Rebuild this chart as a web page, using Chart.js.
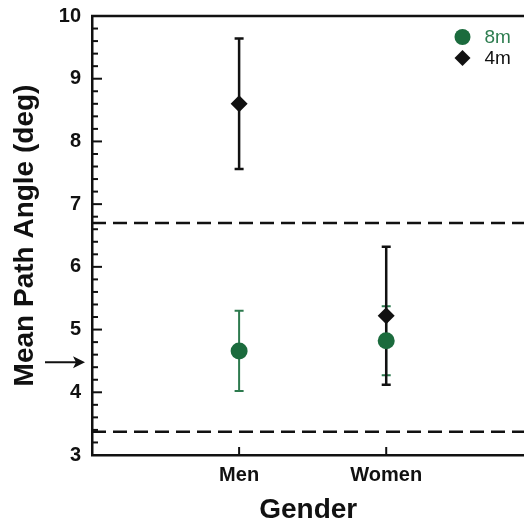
<!DOCTYPE html>
<html>
<head>
<meta charset="utf-8">
<script src="https://cdn.jsdelivr.net/npm/chart.js@4"></script>
<style>
  html, body { margin: 0; padding: 0; background: #fff; overflow: hidden; }
  #wrap { width: 524px; height: 523px; overflow: hidden; }
</style>
</head>
<body>
<div id="wrap"><canvas id="chart" width="533" height="523"></canvas></div>
<script>
// Data
const categories = ['Men', 'Women'];
const mean8m = [4.66, 4.82];
const err8m  = [0.64, 0.55];
const mean4m = [8.60, 5.22];
const err4m  = [1.04, 1.10];
const refLines = [6.70, 3.37];   // dashed band
const arrowValue = 4.48;         // arrow on the left of the y axis
const yRange = [3, 10];
const yMinorStep = 0.2;

const FONT = '"Liberation Sans", Arial, Helvetica, sans-serif';
const GREEN = '#1b6b3d';
const INK = '#111';

const isMajor = v => Math.abs(v - Math.round(v)) < 1e-6;
const toPoints = arr => arr.map((v, i) => ({x: i + 1, y: v}));

// error bars drawn under the markers
const errorBars = {
  id: 'errorBars',
  beforeDatasetsDraw(chart){
    const {ctx, scales: {y}} = chart;
    chart.data.datasets.forEach((ds, di) => {
      if(!ds.errors) return;
      const meta = chart.getDatasetMeta(di);
      ctx.save();
      ctx.strokeStyle = ds.errorColor;
      ctx.lineWidth = ds.errorWidth;
      meta.data.forEach((pt, i) => {
        const v = ds.data[i].y, e = ds.errors[i];
        const top = y.getPixelForValue(v + e);
        const bot = y.getPixelForValue(v - e);
        ctx.beginPath();
        ctx.moveTo(pt.x, top); ctx.lineTo(pt.x, bot);
        ctx.moveTo(pt.x - 4.5, top); ctx.lineTo(pt.x + 4.5, top);
        ctx.moveTo(pt.x - 4.5, bot); ctx.lineTo(pt.x + 4.5, bot);
        ctx.stroke();
      });
      ctx.restore();
    });
  }
};

// frame, inward ticks, arrow, legend
const decorations = {
  id: 'decorations',
  afterDraw(chart){
    const {ctx, chartArea: a, scales: {x, y}} = chart;
    ctx.save();
    ctx.strokeStyle = INK;
    ctx.fillStyle = INK;

    // top frame line
    ctx.lineWidth = 2.5;
    ctx.beginPath();
    ctx.moveTo(a.left - 1, a.top);
    ctx.lineTo(a.right, a.top);
    ctx.stroke();

    // y ticks pointing into the plot
    ctx.lineWidth = 2;
    y.ticks.forEach(t => {
      const py = y.getPixelForValue(t.value);
      const len = isMajor(t.value) ? 10 : 6;
      ctx.beginPath();
      ctx.moveTo(a.left, py);
      ctx.lineTo(a.left + len, py);
      ctx.stroke();
    });

    // x ticks at the categories
    x.ticks.forEach(t => {
      const px = x.getPixelForValue(t.value);
      ctx.beginPath();
      ctx.moveTo(px, a.bottom);
      ctx.lineTo(px, a.bottom - 8);
      ctx.stroke();
    });

    // arrow
    const ay = y.getPixelForValue(arrowValue);
    ctx.lineWidth = 2;
    ctx.beginPath();
    ctx.moveTo(45, ay);
    ctx.lineTo(78, ay);
    ctx.stroke();
    ctx.beginPath();
    ctx.moveTo(85, ay);
    ctx.lineTo(73, ay - 6);
    ctx.lineTo(76, ay);
    ctx.lineTo(73, ay + 6);
    ctx.closePath();
    ctx.fill();

    // legend (top right, inside the plot)
    const items = chart.data.datasets.filter(d => d.legendColor);
    let ly = a.top + 21;
    const lx = a.right - 62;
    ctx.font = '19px ' + FONT;
    ctx.textBaseline = 'middle';
    ctx.textAlign = 'left';
    items.forEach(d => {
      ctx.fillStyle = d.backgroundColor;
      ctx.beginPath();
      if(d.pointStyle === 'circle'){
        ctx.arc(lx, ly, 8, 0, Math.PI * 2);
      } else {
        ctx.moveTo(lx, ly - 8); ctx.lineTo(lx + 8, ly);
        ctx.lineTo(lx, ly + 8); ctx.lineTo(lx - 8, ly);
        ctx.closePath();
      }
      ctx.fill();
      ctx.fillStyle = d.legendColor;
      ctx.fillText(d.label, lx + 22, ly + 1);
      ly += 21;
    });
    ctx.restore();
  }
};

const xMax = 2.94;
const refDatasets = refLines.map(v => ({
  type: 'line',
  label: 'ref',
  data: [{x: 0, y: v}, {x: 3, y: v}],
  borderColor: INK,
  borderWidth: 2.5,
  borderDash: [14, 7],
  pointRadius: 0,
  fill: false,
}));

new Chart(document.getElementById('chart'), {
  type: 'scatter',
  data: {
    datasets: [
      ...refDatasets,
      {
        label: '8m',
        data: toPoints(mean8m),
        errors: err8m,
        errorColor: '#2d7a4e',
        errorWidth: 2,
        legendColor: '#2e7d50',
        pointStyle: 'circle',
        pointRadius: 8.5,
        backgroundColor: GREEN,
        borderColor: GREEN,
        borderWidth: 0,
      },
      {
        label: '4m',
        data: toPoints(mean4m),
        errors: err4m,
        errorColor: INK,
        errorWidth: 2.5,
        legendColor: INK,
        pointStyle: 'rectRot',
        pointRadius: 8.5,
        backgroundColor: INK,
        borderColor: INK,
        borderWidth: 0,
      },
    ]
  },
  options: {
    responsive: false,
    animation: false,
    devicePixelRatio: 1,
    layout: {padding: {top: 16, left: 0, right: 0, bottom: 0}},
    plugins: {legend: {display: false}, tooltip: {enabled: false}},
    scales: {
      x: {
        type: 'linear',
        min: 0, max: xMax,
        grid: {display: false, drawTicks: false},
        border: {display: true, color: INK, width: 2.5},
        ticks: {
          stepSize: 1,
          padding: 8,
          color: INK,
          font: {family: FONT, size: 20, weight: 'bold'},
          callback: v => categories[Math.round(v) - 1] || '',
        },
        // keep only the category positions as ticks
        afterBuildTicks: s => {
          s.ticks = s.ticks.filter(t => isMajor(t.value) && categories[Math.round(t.value) - 1]);
        },
        title: {
          display: true, text: 'Gender', color: INK,
          font: {family: FONT, size: 28, weight: 'bold'},
          padding: {top: 0, bottom: -4},
        },
        afterFit: s => { s.height = 68; },
      },
      y: {
        min: yRange[0], max: yRange[1],
        grid: {display: false, drawTicks: false},
        border: {display: true, color: INK, width: 2.5},
        ticks: {
          stepSize: yMinorStep,
          autoSkip: false,
          padding: 11,
          color: INK,
          font: {family: FONT, size: 20, weight: 'bold'},
          callback: v => isMajor(v) ? String(Math.round(v)) : '',
        },
        title: {
          display: true, text: 'Mean Path Angle (deg)', color: INK,
          font: {family: FONT, size: 28, weight: 'bold'},
          padding: {top: 8, bottom: 0},
        },
        afterFit: s => { s.width = 92; s.paddingTop = 0; s.paddingBottom = 0; },
      }
    }
  },
  plugins: [errorBars, decorations]
});
</script>
</body>
</html>
